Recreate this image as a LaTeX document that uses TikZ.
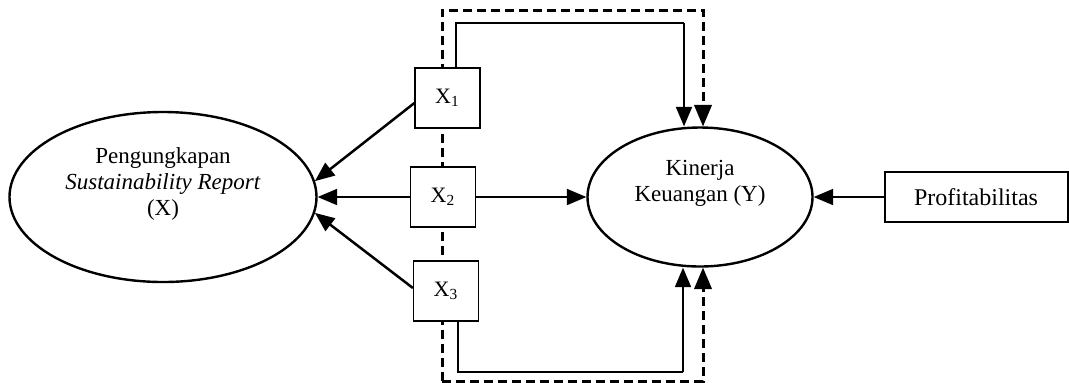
\documentclass[tikz,border=0pt]{standalone}
\usepackage{fontspec}
\setmainfont{Liberation Serif}
\usepackage{tikz}
\usetikzlibrary{arrows,shapes.geometric}

\tikzset{
	latent/.style={draw,ellipse,line width=1.2pt,inner sep=0pt},
	indic/.style={draw,fill=white,line width=0.6pt,minimum width=32.5pt,minimum height=30pt,inner sep=0pt,font=\fontsize{11}{13}\selectfont},
	lbl/.style={align=center,inner sep=0pt,font=\fontsize{11.5}{13}\selectfont},
	conn/.style={->,line width=1.25pt},
	thinconn/.style={line width=0.6pt},
	dashconn/.style={->,line width=1.5pt,dash pattern=on 4.5pt off 2.5pt},
}

\begin{document}
\begin{tikzpicture}[line cap=butt,line join=miter,>=triangle 45,x=0.5pt,y=-0.5pt]
	\useasboundingbox (0,0) rectangle (1069,382);
	% latent variables
	\node[latent,minimum width=153.5pt,minimum height=85pt] (sr) at (163,197) {};
	\node[lbl] (srtext) at (163,184) {Pengungkapan\\\textit{Sustainability Report}\\(X)};
	\node[latent,minimum width=112.5pt,minimum height=69.5pt] (ky) at (700,197) {};
	\node[lbl] (kytext) at (700,183) {Kinerja\\Keuangan (Y)};
	% dashed frame (drawn before the boxes so they cover it)
	\draw[dashconn] (442,381) |- (703,10) -- ([xshift=1.5pt]ky.north);
	\draw[dashconn] (442,381) -- (703,381) -- ([xshift=1.5pt]ky.south);
	% indicators
	\node[indic] (x1) at (447.5,98) {X\textsubscript{1}};
	\node[indic] (x2) at (443,197) {X\textsubscript{2}};
	\node[indic] (x3) at (446,291) {X\textsubscript{3}};
	\node[draw,line width=1pt,minimum width=91.5pt,minimum height=25pt,inner sep=0pt,font=\fontsize{12}{14}\selectfont] (prof) at (976,197) {Profitabilitas};
	% direct paths
	\draw[thinconn] ([xshift=4.25pt]x1.north) |- (684,23);
	\draw[conn] (684,23) -- ([xshift=-8pt]ky.north);
	\draw[thinconn] ([xshift=6pt]x3.south) |- (683,372);
	\draw[conn] (683,372) -- ([xshift=-8.5pt]ky.south);
	\draw[conn] ([yshift=-2.5pt]x1.west) -- (sr.6);
	\draw[conn] (x2.west) -- (sr.east);
	\draw[conn] ([yshift=1.5pt]x3.west) -- (sr.-6);
	\draw[conn] (x2.east) -- (ky.west);
	\draw[conn] (prof.west) -- (ky.east);
\end{tikzpicture}
\end{document}
